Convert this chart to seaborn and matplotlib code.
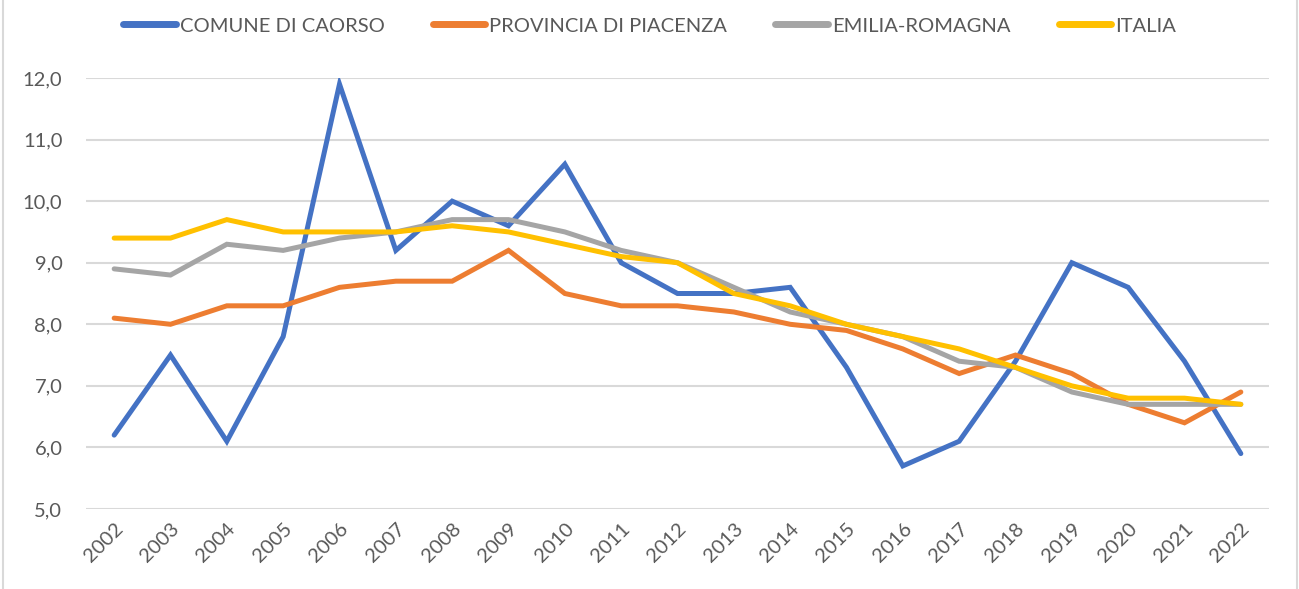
import matplotlib
matplotlib.use("Agg")
import matplotlib.pyplot as plt
import matplotlib.patches as mpatches
import pandas as pd
import seaborn as sns

years = list(range(2002, 2023))
caorso = [6.2, 7.5, 6.1, 7.8, 11.9, 9.2, 10.0, 9.6, 10.6, 9.0, 8.5,
          8.5, 8.6, 7.3, 5.7, 6.1, 7.4, 9.0, 8.6, 7.4, 5.9]
piacenza = [8.1, 8.0, 8.3, 8.3, 8.6, 8.7, 8.7, 9.2, 8.5, 8.3, 8.3,
            8.2, 8.0, 7.9, 7.6, 7.2, 7.5, 7.2, 6.7, 6.4, 6.9]
emilia = [8.9, 8.8, 9.3, 9.2, 9.4, 9.5, 9.7, 9.7, 9.5, 9.2, 9.0,
          8.6, 8.2, 8.0, 7.8, 7.4, 7.3, 6.9, 6.7, 6.7, 6.7]
italia = [9.4, 9.4, 9.7, 9.5, 9.5, 9.5, 9.6, 9.5, 9.3, 9.1, 9.0,
          8.5, 8.3, 8.0, 7.8, 7.6, 7.3, 7.0, 6.8, 6.8, 6.7]

series_names = ["COMUNE DI CAORSO", "PROVINCIA DI PIACENZA", "EMILIA-ROMAGNA", "ITALIA"]
series_values = [caorso, piacenza, emilia, italia]
colors = ["#4472C4", "#ED7D31", "#A5A5A5", "#FFC000"]
y_ticks = [5.0, 6.0, 7.0, 8.0, 9.0, 10.0, 11.0, 12.0]

rows = []
for name, vals in zip(series_names, series_values):
    for i, (yr, v) in enumerate(zip(years, vals)):
        rows.append({"pos": i, "anno": str(yr), "serie": name, "valore": v})
df = pd.DataFrame(rows)

sns.set_theme(style="white")
plt.rcParams["font.family"] = ["Lato", "DejaVu Sans"]
text_color = "#595959"

fig = plt.figure(figsize=(12.99, 5.89), dpi=100)
ax = fig.add_axes([86 / 1299, 1 - 509 / 589, (1269 - 86) / 1299, (509 - 78) / 589])

sns.lineplot(data=df, x="pos", y="valore", hue="serie", hue_order=series_names,
             palette=colors, linewidth=3.6, ax=ax, legend=False,
             solid_joinstyle="miter", solid_capstyle="round", zorder=3)

ax.set_xlim(-0.5, len(years) - 0.5)
ax.set_ylim(5.0, 12.0)
ax.set_yticks(y_ticks)
ax.set_yticklabels([f"{t:.1f}".replace(".", ",") for t in y_ticks],
                   fontsize=14.5, color=text_color)
ax.set_xticks(range(len(years)))
ax.set_xticklabels([str(y) for y in years], rotation=45, ha="right",
                   rotation_mode="anchor", fontsize=14.5, color=text_color)
ax.tick_params(axis="both", length=0)
ax.tick_params(axis="x", pad=8)
ax.tick_params(axis="y", pad=17)
ax.set_xlabel("")
ax.set_ylabel("")
ax.grid(axis="y", color="#D9D9D9", linewidth=1.5, zorder=0)
ax.grid(axis="x", visible=False)
for s in ax.spines.values():
    s.set_visible(False)

handles = [plt.Line2D([0], [0], color=c, linewidth=5, solid_capstyle="round")
           for c in colors]
fig.legend(handles, series_names, loc="center", ncol=4,
           bbox_to_anchor=(0.5, 1 - 26 / 589), frameon=False,
           fontsize=14.5, labelcolor=text_color, handlelength=2.6,
           handletextpad=0.2, columnspacing=2.4)

fig.patches.append(mpatches.Rectangle((3 / 1299, -0.01), 1294 / 1299, 1.05,
                                      transform=fig.transFigure, fill=False,
                                      edgecolor="#D9D9D9", linewidth=1.5))

fig.savefig("out.png", dpi=100, facecolor="white")
